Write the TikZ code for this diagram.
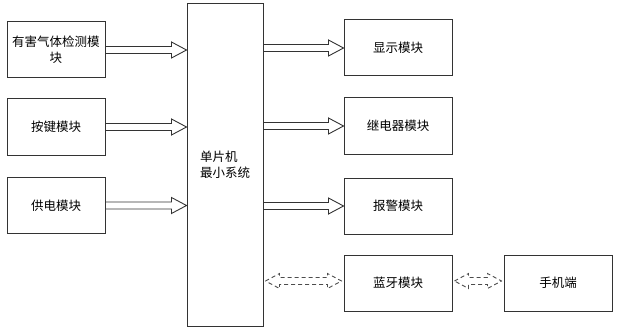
\documentclass[tikz,border=0pt]{standalone}
\usepackage{fontspec}
\setmainfont{Noto Sans CJK SC}
\usetikzlibrary{calc}
\tikzset{
  box/.style={draw=black!80, line width=1pt, fill=white, inner sep=0pt, align=center, font=\fontsize{12.5}{16}\selectfont},
  barrow/.style={draw=black!80, line width=0.9pt, fill=white, line join=miter},
  darrow/.style={draw=black!70, line width=0.9pt, dash pattern=on 4pt off 3pt},
}
\newcommand{\blockarrow}[3][barrow]{%
  \draw[#1] let \p1=(#2), \p2=(#3) in
    (\x1,\y1+3.5pt) -- (\x2-15pt,\y1+3.5pt) -- (\x2-15pt,\y1+8pt) -- (\x2,\y1)
    -- (\x2-15pt,\y1-8pt) -- (\x2-15pt,\y1-3.5pt) -- (\x1,\y1-3.5pt) -- cycle;}
\newcommand{\dblarrow}[3][darrow]{%
  \draw[#1] let \p1=(#2), \p2=(#3) in
    (\x1,\y1) -- (\x1+14pt,\y1+7.5pt) -- (\x1+14pt,\y1+3.5pt) -- (\x2-14pt,\y1+3.5pt)
    -- (\x2-14pt,\y1+7.5pt) -- (\x2,\y1) -- (\x2-14pt,\y1-7.5pt) -- (\x2-14pt,\y1-3.5pt)
    -- (\x1+14pt,\y1-3.5pt) -- (\x1+14pt,\y1-7.5pt) -- cycle;}
\begin{document}
\begin{tikzpicture}[x=1pt,y=-1pt]
\useasboundingbox[fill=white] (0,0) rectangle (626,334);
% left boxes
\node[box, minimum width=98pt, minimum height=56pt] (gas) at (56,50) {有害气体检测模\\块};
\node[box, minimum width=98pt, minimum height=56pt] (key) at (56,127) {按键模块};
\node[box, minimum width=98pt, minimum height=56pt] (pwr) at (56,205.5) {供电模块};
% MCU
\node[box, minimum width=76pt, minimum height=322pt, align=left] (mcu) at (225,165) {单片机\\最小系统};
% right boxes
\node[box, minimum width=108pt, minimum height=56pt] (disp) at (398,48) {显示模块};
\node[box, minimum width=108pt, minimum height=56pt] (relay) at (398,126) {继电器模块};
\node[box, minimum width=108pt, minimum height=56pt] (alarm) at (398,206) {报警模块};
\node[box, minimum width=108pt, minimum height=56pt] (bt) at (398,283) {蓝牙模块};
\node[box, minimum width=108pt, minimum height=56pt] (phone) at (558,283) {手机端};
% arrows
\blockarrow{gas.east}{mcu.west |- gas.east}
\blockarrow{key.east}{mcu.west |- key.east}
\blockarrow{pwr.east}{mcu.west |- pwr.east}
\blockarrow{mcu.east |- disp.west}{disp.west}
\blockarrow{mcu.east |- relay.west}{relay.west}
\blockarrow{mcu.east |- alarm.west}{alarm.west}
\dblarrow{$(mcu.east |- bt.west)+(2,-2)$}{$(bt.west)+(-2,-2)$}
\dblarrow{$(bt.east)+(2,-2)$}{$(phone.west)+(-2,-2)$}
\end{tikzpicture}
\end{document}
